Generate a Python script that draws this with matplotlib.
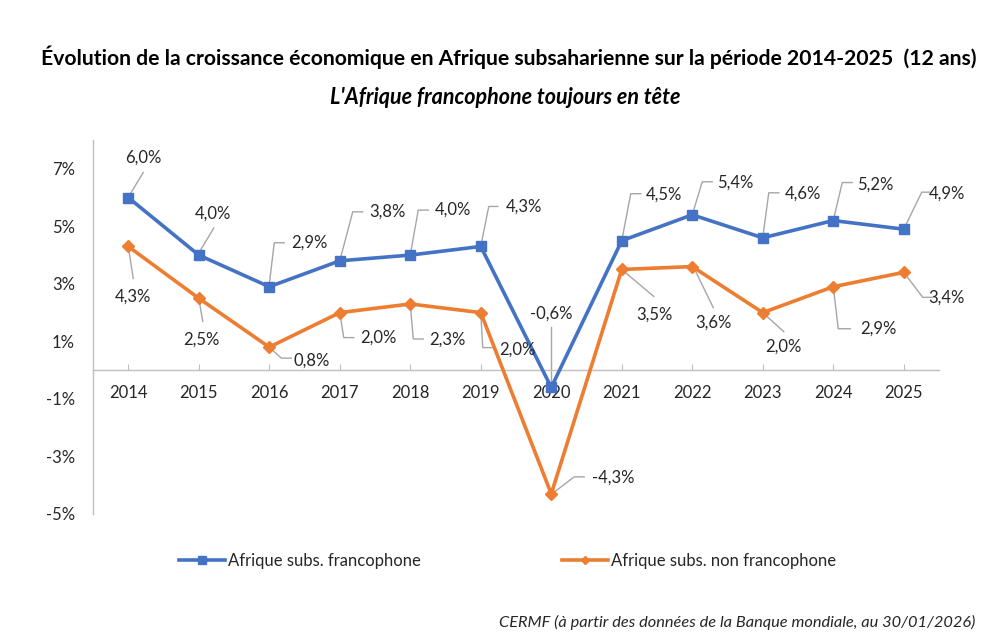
import matplotlib
matplotlib.use("Agg")
import matplotlib.pyplot as plt
from matplotlib.lines import Line2D
from matplotlib.transforms import IdentityTransform
import numpy as np

years = ["2014", "2015", "2016", "2017", "2018", "2019", "2020",
         "2021", "2022", "2023", "2024", "2025"]
franco = [6.0, 4.0, 2.9, 3.8, 4.0, 4.3, -0.6, 4.5, 5.4, 4.6, 5.2, 4.9]
non_franco = [4.3, 2.5, 0.8, 2.0, 2.3, 2.0, -4.3, 3.5, 3.6, 2.0, 2.9, 3.4]
yticks = [-5, -3, -1, 1, 3, 5, 7]
series_names = ["Afrique subs. francophone", "Afrique subs. non francophone"]

title = "Évolution de la croissance économique en Afrique subsaharienne sur la période 2014-2025  (12 ans)"
subtitle = "L'Afrique francophone toujours en tête"
source = "CERMF (à partir des données de la Banque mondiale, au 30/01/2026)"

BLUE = "#4472C4"
ORANGE = "#ED7D31"
GRAY = "#A6A6A6"
TXT = "#262626"
FONT = "Lato"
FS = 12

plt.rcParams["font.family"] = [FONT, "DejaVu Sans"]

# label placement (pixel offsets, y up): text centre, leader vertices
blue_lab = [
    ((15, 40), [(1, 2), (15, 25)]),
    ((14, 41), [(0, 2), (15, 27)]),
    ((40, 44), [(0, 2), (5, 44), (15, 44)]),
    ((48, 49), [(0, 0), (13, 49), (23, 49)]),
    ((43, 45), [(0, 0), (8, 45), (18, 45)]),
    ((43, 40), [(0, 0), (8, 40), (17, 40)]),
    ((0, 74), [(0, 3), (0, 60)]),
    ((42, 46), [(0, 0), (9, 47), (19, 47)]),
    ((43, 32), [(0, 0), (10, 33), (20, 33)]),
    ((40, 44), [(0, 0), (6, 45), (16, 45)]),
    ((42, 36), [(0, 0), (9, 38), (19, 38)]),
    ((43, 36), [(0, 0), (18, 37), (26, 37)]),
]
orange_lab = [
    ((5, -50), [(0, 0), (5, -32)]),
    ((3, -41), [(0, 0), (4, -23)]),
    ((42, -13), [(0, 0), (12, -11), (22, -11)]),
    ((39, -25), [(0, 0), (4, -25), (14, -25)]),
    ((37, -36), [(0, 0), (3, -35), (13, -35)]),
    ((37, -37), [(0, 0), (2, -35), (12, -35)]),
    ((62, 16), [(2, 1), (23, 17), (33, 17)]),
    ((33, -45), [(0, 0), (32, -27)]),
    ((21, -56), [(1, 0), (21, -41)]),
    ((21, -34), [(0, 0), (21, -19)]),
    ((45, -42), [(0, 0), (5, -42), (17, -42)]),
    ((43, -25), [(0, 0), (19, -25), (29, -25)]),
]

fig = plt.figure(figsize=(10, 6.37), dpi=100)
ax = fig.add_axes([0.093, 1 - 514 / 637, 0.846, 374 / 637])

x = np.arange(len(years))
l1, = ax.plot(x, franco, color=BLUE, lw=2.6, marker="s", ms=6.5,
              markerfacecolor=BLUE, markeredgecolor=BLUE, zorder=3)
l2, = ax.plot(x, non_franco, color=ORANGE, lw=2.6, marker="D", ms=6.5,
              markerfacecolor=ORANGE, markeredgecolor=ORANGE, zorder=3)

ax.set_xlim(-0.5, len(years) - 0.5)
ax.set_ylim(-5, 8)
ax.set_yticks(yticks)
ax.set_yticklabels([f"{v}%" for v in yticks])
ax.set_xticks(x)
ax.set_xticklabels(years)

for s in ["top", "right"]:
    ax.spines[s].set_visible(False)
ax.spines["bottom"].set_position(("data", 0))
ax.spines["bottom"].set_color("#BFBFBF")
ax.spines["left"].set_color("#BFBFBF")
ax.spines["bottom"].set_linewidth(1.0)
ax.spines["left"].set_linewidth(1.0)
ax.tick_params(axis="y", length=0, pad=13, labelsize=FS, labelcolor=TXT)
ax.tick_params(axis="x", direction="in", length=4, color="#BFBFBF",
               pad=11, labelsize=FS, labelcolor=TXT)

def fmt(v):
    return f"{v:.1f}".replace(".", ",") + "%"

fig.canvas.draw()
for vals, labs in ((franco, blue_lab), (non_franco, orange_lab)):
    for i, v in enumerate(vals):
        (dx, dy), verts = labs[i]
        ax.annotate(fmt(v), xy=(x[i], v), xytext=(dx * 0.72, dy * 0.72),
                    textcoords="offset points", ha="center", va="center",
                    fontsize=FS, color=TXT, annotation_clip=False)
        bx, by = ax.transData.transform((x[i], v))
        xs = [bx + p[0] for p in verts]
        ys = [by + p[1] for p in verts]
        ln = Line2D(xs, ys, color=GRAY, lw=1.0, transform=IdentityTransform(),
                    zorder=2.5, clip_on=False)
        ax.add_line(ln)

fig.text(0.509, 1 - 57 / 637, title, ha="center", va="center",
         fontsize=15.2, fontweight="bold", color="black")
fig.text(0.5055, 1 - 97 / 637, subtitle, ha="center", va="center",
         fontsize=15.5, fontweight="bold", fontstyle="italic", color="black")
fig.text(0.975, 1 - 622 / 637, source, ha="right", va="center",
         fontsize=11.8, fontstyle="italic", color=TXT)

leg_handles = [
    Line2D([], [], color=BLUE, lw=2.6, marker="s", ms=6),
    Line2D([], [], color=ORANGE, lw=2.6, marker="D", ms=4),
]
fig.legend(leg_handles, series_names, loc="center left",
           bbox_to_anchor=(0.179, 1 - 561 / 637), ncol=2, frameon=False,
           handlelength=2.75, handletextpad=0.18, columnspacing=8.5,
           fontsize=FS, borderpad=0, borderaxespad=0, labelcolor=TXT)

fig.savefig("out.png", dpi=100)
